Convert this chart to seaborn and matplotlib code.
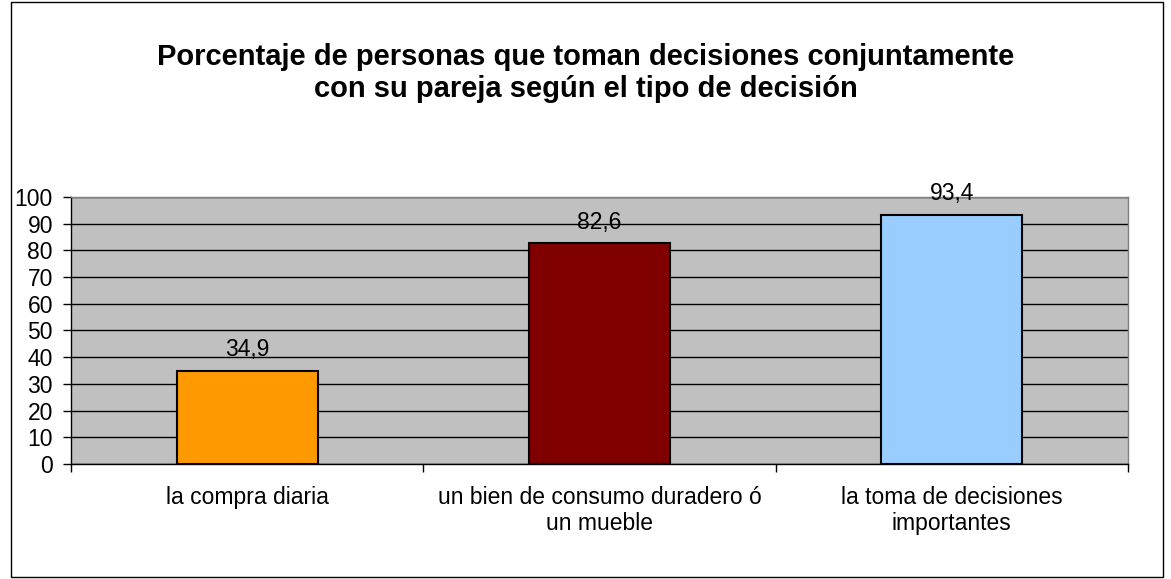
import matplotlib
matplotlib.use("Agg")
import matplotlib.pyplot as plt
import pandas as pd
import seaborn as sns
from matplotlib.patches import Rectangle

# ── Data ────────────────────────────────────────────────────────
categories = ["la compra diaria",
              "un bien de consumo duradero ó\nun mueble",
              "la toma de decisiones\nimportantes"]
values = [34.9, 82.6, 93.4]
value_labels = ["34,9", "82,6", "93,4"]
bar_colors = ["#FF9900", "#800000", "#99CCFF"]
title = ("Porcentaje de personas que toman decisiones conjuntamente\n"
         "con su pareja según el tipo de decisión")

df = pd.DataFrame({"cat": categories, "val": values})

sns.set_style("white")
plt.rcParams["font.family"] = ["Liberation Sans", "DejaVu Sans"]
plt.rcParams["text.color"] = "black"
plt.rcParams["xtick.color"] = "black"
plt.rcParams["ytick.color"] = "black"

fig = plt.figure(figsize=(11.71, 5.79), dpi=100)
ax = fig.add_axes([0.0606, 0.1986, 0.9027, 0.4612])
ax.set_facecolor("#C0C0C0")

sns.barplot(data=df, x="cat", y="val", hue="cat", palette=bar_colors,
            legend=False, width=0.4, edgecolor="black", linewidth=1.5,
            saturation=1, ax=ax, zorder=3)

for i, (v, lab) in enumerate(zip(values, value_labels)):
    ax.annotate(lab, (i, v), xytext=(0, 7), textcoords="offset points",
                ha="center", va="bottom", fontsize=16.5)

ax.set_ylim(0, 100)
ax.set_xlim(-0.5, 2.5)
ax.set_yticks(range(0, 101, 10))
ax.yaxis.grid(True, color="black", linewidth=1)
ax.set_axisbelow(True)
ax.set_xlabel("")
ax.set_ylabel("")

# tick marks at category boundaries, labels at centers
ax.set_xticks(range(len(categories)))
ax.set_xticklabels(categories, fontsize=16.5, linespacing=1.15)
ax.set_xticks([-0.5, 0.5, 1.5, 2.5], minor=True)
ax.tick_params(axis="x", which="major", length=0, pad=16, bottom=True)
ax.tick_params(axis="x", which="minor", length=6, width=1, color="black", bottom=True)
ax.tick_params(axis="y", length=6, width=1, color="black", labelsize=16.5, pad=7,
               left=True)

for s in ["top", "right"]:
    ax.spines[s].set_color("#808080")
    ax.spines[s].set_linewidth(1)
for s in ["left", "bottom"]:
    ax.spines[s].set_color("black")
    ax.spines[s].set_linewidth(1)

fig.text(0.5, 0.874, title, ha="center", va="center", fontsize=21,
         fontweight="bold", linespacing=1.17)

# outer chart border
fig.patches.append(Rectangle((0.009, 0.003), 0.984, 0.994, transform=fig.transFigure,
                             fill=False, edgecolor="black", linewidth=1))

plt.savefig("out.png", dpi=100)
